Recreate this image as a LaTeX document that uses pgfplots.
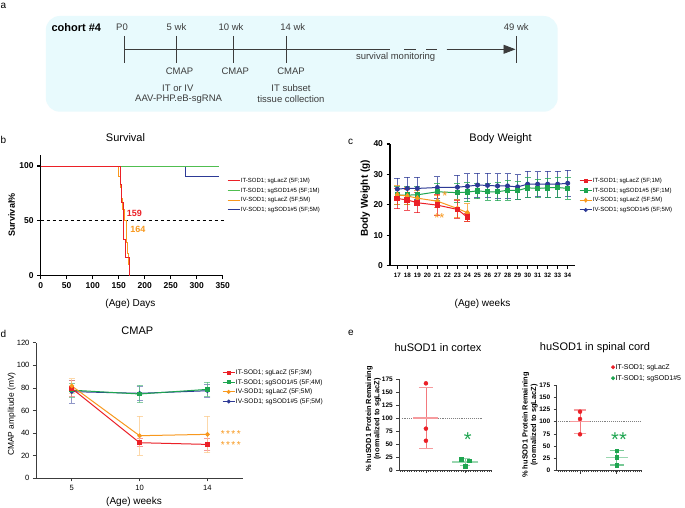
\documentclass[border=0pt]{standalone}
\usepackage{pgfplots}
\pgfplotsset{compat=1.18}
\usepackage{fontspec}
\setmainfont{Liberation Sans}
\usetikzlibrary{arrows.meta}
\definecolor{cred}{RGB}{235,32,39}
\definecolor{cgreen}{RGB}{30,165,80}
\definecolor{lgreen}{RGB}{80,190,80}
\definecolor{corange}{RGB}{248,152,29}
\definecolor{cblue}{RGB}{45,58,150}
\definecolor{boxcyan}{RGB}{232,250,253}
\definecolor{dgray}{RGB}{60,60,60}
\newcommand{\fs}[1]{\fontsize{#1}{#1}\selectfont}
\newcommand{\sk}{\kern1.4pt}
\pgfplotsset{
  panel/.style={scale only axis, anchor=south west, axis lines*=left, tick align=outside, clip=false,
    /pgf/number format/assume math mode=true, legend cell align=left,
    axis line style={black}, tick style={black}},
  linelegend/.style={legend image code/.code={\draw[##1] (0pt,0pt) -- (12pt,0pt);}},
  marklegend/.style={legend image code/.code={\draw[mark repeat=2,mark phase=2,##1] plot coordinates {(0pt,0pt) (6pt,0pt) (12pt,0pt)};}},
  ebar/.style={error bars/.cd, y dir=both, y explicit,
     error bar style={line width=0.8pt, #1, opacity=0.75},
     error mark options={#1, rotate=90, line width=0.8pt, mark size=3pt, opacity=0.75}},
}
\begin{document}
\begin{tikzpicture}
\useasboundingbox (0,0) rectangle (685pt,-508pt);
\fill[white] (0,0) rectangle (685pt,-508pt);

% ---------------- panel a ----------------
\node[font=\fs{10}, anchor=west, inner sep=0] at (0.5pt,-5.5pt) {a};
\fill[boxcyan, rounded corners=14pt] (45.8pt,-16pt) rectangle (557.7pt,-111.7pt);
\node[font=\bfseries\fs{11}, anchor=west, inner sep=0] at (51.4pt,-27.3pt) {cohort \#4};
\begin{scope}[draw=dgray, line width=0.9pt]
\draw (124.2pt,-49.3pt) -- (390pt,-49.3pt);
\draw (404pt,-49.3pt) -- (416pt,-49.3pt);
\draw (426pt,-49.3pt) -- (437pt,-49.3pt);
\draw[-{Triangle[length=12pt,width=9pt]}, fill=dgray] (446.6pt,-49.3pt) -- (515.5pt,-49.3pt);
\foreach \x in {124.2,176,233.1,286.7,516.3} \draw (\x pt,-36pt) -- (\x pt,-62.7pt);
\end{scope}
\begin{scope}[font=\fs{9.5}, text=dgray, inner sep=0]
\node at (122pt,-27.3pt) {P0};
\node at (176.5pt,-27.3pt) {5 wk};
\node at (231pt,-27.3pt) {10 wk};
\node at (292.8pt,-27.3pt) {14 wk};
\node at (516.3pt,-27.3pt) {49 wk};
\node at (179.5pt,-71.7pt) {CMAP};
\node at (235.3pt,-71.7pt) {CMAP};
\node at (291.1pt,-71.7pt) {CMAP};
\node at (177.8pt,-88.3pt) {IT or IV};
\node at (178.6pt,-99.3pt) {AAV-PHP.eB-sgRNA};
\node at (291pt,-88.3pt) {IT subset};
\node at (291pt,-99.3pt) {tissue collection};
\node at (395.6pt,-57.3pt) {survival monitoring};
\end{scope}

% ---------------- panel b ----------------
\node[font=\fs{10}, anchor=west, inner sep=0] at (0.5pt,-140pt) {b};
\node[font=\fs{11}] at (125.5pt,-138pt) {Survival};
\node[font=\fs{10}] at (130.5pt,-304pt) {(Age) Days};
\node[font=\bfseries\fs{9}, rotate=90] at (11.7pt,-215pt) {Survival\%};
\begin{axis}[panel, linelegend, at={(40.7pt,-275.7pt)}, width=182pt, height=120.7pt,
  xmin=0, xmax=350, ymin=0, ymax=110,
  xtick={0,50,...,350}, ytick={0,50,100},
  axis line style={line width=1.3pt}, tick style={line width=1.1pt}, major tick length=3.5pt,
  ticklabel style={font=\bfseries\fs{8.5}},
  legend style={at={(1.024,0.819)}, anchor=north west, draw=none, fill=none, inner sep=0pt,
    font=\fs{6}, row sep=2.2pt, nodes={inner sep=0.8pt, text height=4.6pt, text depth=1.3pt}}]
\addlegendimage{cred, line width=0.9pt}\addlegendentry{IT-SOD1; sgLacZ (5F;1M)}
\addlegendimage{lgreen, line width=0.9pt}\addlegendentry{IT-SOD1; sgSOD1\#5 (5F;1M)}
\addlegendimage{corange, line width=0.9pt}\addlegendentry{IV-SOD1; sgLacZ (5F;5M)}
\addlegendimage{cblue, line width=0.9pt}\addlegendentry{IV-SOD1; sgSOD1\#5 (5F;5M)}
\addplot[forget plot, black, dashed, line width=1pt] coordinates {(0,50)(357,50)};
\addplot[forget plot, cblue, line width=0.9pt] coordinates {(0,100)(279,100)(279,90)(342,90)};
\addplot[forget plot, lgreen, line width=0.9pt] coordinates {(0,100)(342,100)};
\addplot[forget plot, corange, line width=0.9pt] coordinates {(0,100)(150,100)(150,90)(154,90)(154,80)(155,80)(155,70)(158,70)(158,60)(162,60)(162,50)(164,50)(164,40)(165,40)(165,30)(167,30)(167,20)(169,20)(169,10)(171,10)(171,0)};
\addplot[forget plot, cred, line width=0.9pt] coordinates {(0,100)(153,100)(153,83.3)(156,83.3)(156,66.7)(159,66.7)(159,33.3)(163,33.3)(163,16.7)(170,16.7)(170,0)};
\node[font=\bfseries\fs{9}, text=cred] at (axis cs:180,57) {159};
\node[font=\bfseries\fs{9}, text=corange] at (axis cs:187,42.6) {164};
\end{axis}

% ---------------- panel c ----------------
\node[font=\fs{10}, anchor=west, inner sep=0] at (348pt,-141.7pt) {c};
\node[font=\fs{11}] at (500.5pt,-138.3pt) {Body Weight};
\node[font=\fs{10}] at (482.5pt,-304pt) {(Age) weeks};
\node[font=\bfseries\fs{10}, rotate=90] at (365.3pt,-198.3pt) {Body Weight (g)};
\begin{axis}[panel, marklegend, at={(390pt,-265.7pt)}, width=185pt, height=121.7pt,
  xmin=16.27, xmax=34.73, ymin=0, ymax=40,
  xtick={17,18,...,34}, ytick={0,10,...,40},
  axis line style={line width=1.3pt}, tick style={line width=1.1pt}, major tick length=3.5pt,
  xticklabel style={font=\bfseries\fs{6.3}}, yticklabel style={font=\bfseries\fs{8.5}},
  legend style={at={(1.022,0.730)}, anchor=north west, draw=none, fill=none, inner sep=0pt,
    font=\fs{6}, row sep=2.2pt, nodes={inner sep=0.8pt, text height=4.6pt, text depth=1.3pt}}]
\addlegendimage{cred, line width=0.9pt, mark=square*, mark size=1.6pt}\addlegendentry{IT-SOD1; sgLacZ (5F;1M)}
\addlegendimage{cgreen, line width=0.9pt, mark=square*, mark size=1.6pt}\addlegendentry{IT-SOD1; sgSOD1\#5 (5F;1M)}
\addlegendimage{corange, line width=0.9pt, mark=diamond*, mark size=1.8pt}\addlegendentry{IV-SOD1; sgLacZ (5F;5M)}
\addlegendimage{cblue, line width=0.9pt, mark=*, mark size=1.5pt}\addlegendentry{IV-SOD1; sgSOD1\#5 (5F;5M)}
\addplot[forget plot, cblue, line width=1pt, mark=*, mark size=2pt, ebar=cblue] table[x=x, y=y, y error=e, row sep=\\] {
x y e\\ 17 25.2 3.6\\ 18 25.4 3.6\\ 19 25.4 3.7\\ 21 25.7 3.6\\ 23 25.8 3.9\\ 24 26.1 4.1\\ 25 26.5 4.0\\ 26 26.4 4.0\\ 27 26.2 4.0\\ 28 26.2 4.0\\ 29 25.9 4.0\\ 30 26.8 4.2\\ 31 26.8 4.1\\ 32 26.8 4.3\\ 33 26.8 4.2\\ 34 27.1 4.2\\
};
\addplot[forget plot, cgreen, line width=1pt, mark=square*, mark size=2.2pt, ebar=cgreen] table[x=x, y=y, y error=e, row sep=\\] {
x y e\\ 17 23.2 2.9\\ 18 23.2 2.9\\ 19 23.3 2.9\\ 21 24.3 2.9\\ 23 24.0 3.2\\ 24 24.2 3.1\\ 25 24.6 2.6\\ 26 24.3 2.8\\ 27 24.3 3.0\\ 28 24.8 3.2\\ 29 24.7 2.9\\ 30 25.6 3.3\\ 31 25.4 3.1\\ 32 25.6 3.2\\ 33 25.7 3.3\\ 34 25.4 3.6\\
};
\addplot[forget plot, corange, line width=1pt, mark=diamond*, mark size=2.4pt, ebar=corange] table[x=x, y=y, y error=e, row sep=\\] {
x y e\\ 17 23.3 3.0\\ 18 22.9 2.8\\ 19 22.2 2.5\\ 21 21.2 2.0\\ 23 18.8 3.0\\ 24 17.4 3.0\\
};
\addplot[forget plot, cred, line width=1pt, mark=square*, mark size=2.4pt, ebar=cred] table[x=x, y=y, y error=e, row sep=\\] {
x y e\\ 17 22.1 3.4\\ 18 21.6 3.4\\ 19 20.7 3.3\\ 21 19.9 3.5\\ 23 18.5 2.8\\ 24 15.9 1.2\\
};
\node[font=\fs{13}, text=corange, anchor=base, inner sep=0] at (axis cs:21.2,14.2) {**};
\node[font=\fs{13}, text=corange, anchor=base, inner sep=0] at (axis cs:21.75,21.4) {*};
\end{axis}

% ---------------- panel d ----------------
\node[font=\fs{10}, anchor=west, inner sep=0] at (0.5pt,-334pt) {d};
\node[font=\fs{11}] at (137.3pt,-331pt) {CMAP};
\node[font=\fs{10}] at (134pt,-502.3pt) {(Age) weeks};
\node[font=\fs{8.4}, rotate=90] at (11.7pt,-414pt) {CMAP amplitude (mV)};
\begin{axis}[panel, marklegend, at={(36pt,-478.3pt)}, width=206.7pt, height=135.6pt,
  xmin=-0.527, xmax=2.52, ymin=0, ymax=120,
  xtick={0,1,2}, xticklabels={5,10,14}, ytick={0,20,...,120},
  axis line style={line width=0.8pt, dgray}, tick style={line width=0.8pt, dgray}, major tick length=3pt,
  ticklabel style={font=\fs{7.6}},
  legend style={at={(0.90,0.81)}, anchor=north west, draw=none, fill=none, inner sep=0pt,
    font=\fs{6.6}, row sep=1.6pt, nodes={inner sep=0.8pt, text height=5pt, text depth=1.4pt}}]
\addlegendimage{cred, line width=0.9pt, mark=square*, mark size=1.4pt}\addlegendentry{IT-SOD1; sgLacZ (5F;3M)}
\addlegendimage{cgreen, line width=0.9pt, mark=square*, mark size=1.4pt}\addlegendentry{IT-SOD1; sgSOD1\#5 (5F;4M)}
\addlegendimage{corange, line width=0.9pt, mark=*, mark size=1.5pt}\addlegendentry{IV-SOD1; sgLacZ (5F;5M)}
\addlegendimage{cblue, line width=0.9pt, mark=*, mark size=1.5pt}\addlegendentry{IV-SOD1; sgSOD1\#5 (5F;5M)}
\addplot[forget plot, cblue, line width=1pt, mark=*, mark size=1.8pt, ebar=cblue!70] table[x=x, y=y, y error=e, row sep=\\] {
x y e\\ 0 76.7 10\\ 1 75.2 6.5\\ 2 77.5 5.6\\
};
\addplot[forget plot, cgreen, line width=1pt, mark=square*, mark size=1.8pt, ebar=cgreen!70] table[x=x, y=y, y error=e, row sep=\\] {
x y e\\ 0 78 6\\ 1 74.6 7.7\\ 2 78.7 6.3\\
};
\addplot[forget plot, cred, line width=1pt, mark=square*, mark size=2pt, ebar=cred!60] table[x=x, y=y, y error=e, row sep=\\] {
x y e\\ 0 79.6 7\\ 1 31.5 3.5\\ 2 30 5\\
};
\addplot[forget plot, corange, line width=1pt, mark=*, mark size=1.8pt, ebar=corange!50] table[x=x, y=y, y error=e, row sep=\\] {
x y e\\ 0 81.7 6.5\\ 1 37.7 17\\ 2 38.9 16.3\\
};
\end{axis}
\node[font=\fs{10}, text=corange, anchor=base, inner sep=0] at (230.8pt,-437.3pt) {*\sk*\sk*\sk*};
\node[font=\fs{10}, text=corange, anchor=base, inner sep=0] at (230.8pt,-448.3pt) {*\sk*\sk*\sk*};

% ---------------- panel e ----------------
\node[font=\fs{10}, anchor=west, inner sep=0] at (348pt,-333pt) {e};
\node[font=\fs{11}] at (438pt,-348pt) {huSOD1 in cortex};
\node[font=\fs{11}] at (595pt,-348pt) {huSOD1 in spinal cord};
\node[font=\bfseries\fs{7.4}, rotate=90, align=center] at (373.3pt,-419pt) {\% huSOD1 Protein Remaining\\[1pt](normalized to sgLacZ)};
\node[font=\bfseries\fs{7.4}, rotate=90, align=center] at (530pt,-425pt) {\% huSOD1 Protein Remaining\\[1pt](normalized to sgLacZ)};
\begin{axis}[panel, at={(399.3pt,-470pt)}, width=92.4pt, height=91pt,
  xmin=-0.68, xmax=1.68, ymin=0, ymax=175,
  ytick={0,25,...,175}, xtick={0,1}, xticklabels={}, minor xtick={-0.66,-0.6,...,1.66},
  major tick length=3pt, minor tick length=1.5pt,
  axis line style={line width=0.8pt, dgray}, tick style={line width=0.7pt, dgray},
  yticklabel style={font=\bfseries\fs{6.5}}]
\addplot[gray, densely dotted, line width=0.9pt] coordinates {(-0.62,100)(1.43,100)};
\addplot[only marks, mark=-, mark size=12.5pt, mark options={line width=1.3pt}, color=cred!45,
  error bars/.cd, y dir=both, y explicit, error bar style={line width=0.8pt, cred!60},
  error mark options={rotate=90, line width=1.3pt, mark size=7pt, cred!45}] coordinates {(0,100) +- (0,58)};
\addplot[only marks, mark=-, mark size=13.3pt, mark options={line width=1.3pt}, color=cgreen!45,
  error bars/.cd, y dir=both, y explicit, error bar style={line width=0.8pt, cgreen!60},
  error mark options={rotate=90, line width=1.3pt, mark size=5pt, cgreen!45}] coordinates {(1,15.5) +- (0,6.5)};
\addplot[only marks, mark=*, mark size=2pt, cred] coordinates {(0,166.7)(0,79.5)(0,56.3)};
\addplot[only marks, mark=square*, mark size=1.9pt, cgreen] coordinates {(0.9,21)(1.1,18)(1.0,7.7)};
\end{axis}
\begin{axis}[panel, at={(556.7pt,-470.7pt)}, width=85pt, height=85.7pt,
  xmin=-0.635, xmax=1.68, ymin=0, ymax=175,
  ytick={0,25,...,175}, xtick={0,1}, xticklabels={}, minor xtick={-0.6,-0.54,...,1.66},
  major tick length=3pt, minor tick length=1.5pt,
  axis line style={line width=0.8pt, dgray}, tick style={line width=0.7pt, dgray},
  yticklabel style={font=\bfseries\fs{6.5}},
  legend style={at={(0.64,1.259)}, anchor=north west, draw=none, fill=none, inner sep=0pt,
    font=\fs{7}, row sep=2.6pt, nodes={inner sep=0.8pt, text height=5.3pt, text depth=1.5pt}}]
\addlegendimage{only marks, mark=*, mark size=1.8pt, cred}\addlegendentry{IT-SOD1; sgLacZ}
\addlegendimage{only marks, mark=*, mark size=1.8pt, cgreen}\addlegendentry{IT-SOD1; sgSOD1\#5}
\addplot[forget plot, gray, densely dotted, line width=0.9pt] coordinates {(-0.6,100)(1.63,100)};
\addplot[forget plot, only marks, mark=-, mark size=10pt, mark options={line width=1.3pt}, color=cred!45,
  error bars/.cd, y dir=both, y explicit, error bar style={line width=0.8pt, cred!60},
  error mark options={rotate=90, line width=1.3pt, mark size=6.3pt, cred!45}] coordinates {(0,100) +- (0,24)};
\addplot[forget plot, only marks, mark=-, mark size=10.8pt, mark options={line width=1.3pt}, color=cgreen!45,
  error bars/.cd, y dir=both, y explicit, error bar style={line width=0.8pt, cgreen!60},
  error mark options={rotate=90, line width=1.3pt, mark size=7pt, cgreen!60}] coordinates {(1,26.6) +- (0,15)};
\addplot[forget plot, only marks, mark=*, mark size=2pt, cred] coordinates {(0,120.5)(0,105.6)(0,74.3)};
\addplot[forget plot, only marks, mark=square*, mark size=1.9pt, cgreen] coordinates {(1,40.8)(1,27.3)(1,11.6)};
\end{axis}
\node[font=\fs{20}, text=cgreen, anchor=base, inner sep=0] at (467.7pt,-446.5pt) {*};
\node[font=\fs{20}, text=cgreen, anchor=base, inner sep=0] at (619pt,-446.5pt) {**};
\end{tikzpicture}
\end{document}
